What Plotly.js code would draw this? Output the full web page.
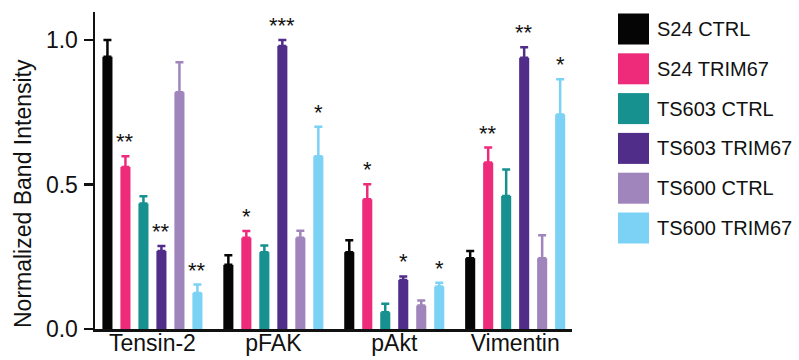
<!DOCTYPE html>
<html>
<head>
<meta charset="utf-8">
<script src="https://cdn.plot.ly/plotly-3.0.1.min.js"></script>
<style>html,body{margin:0;padding:0;background:#fff;}#chart{width:799px;height:360px;}</style>
</head>
<body>
<div id="chart"></div>
<script>
// ---- data ----
const categories = ["Tensin-2", "pFAK", "pAkt", "Vimentin"];
const seriesNames = ["S24 CTRL", "S24 TRIM67", "TS603 CTRL", "TS603 TRIM67", "TS600 CTRL", "TS600 TRIM67"];
const seriesColors = ["#050505", "#EE2B7B", "#17918F", "#512D8A", "#A085BD", "#7BD2F5"];
const yTickVals = [0, 0.5, 1.0];
const yTickText = ["0.0", "0.5", "1.0"];
const yTitle = "Normalized Band Intensity";

const s24Ctrl     = [0.942, 0.222, 0.266, 0.245];
const s24Trim     = [0.561, 0.316, 0.449, 0.576];
const ts603Ctrl   = [0.434, 0.266, 0.058, 0.460];
const ts603Trim   = [0.270, 0.979, 0.170, 0.939];
const ts600Ctrl   = [0.819, 0.316, 0.081, 0.245];
const ts600Trim   = [0.125, 0.598, 0.147, 0.742];

const s24CtrlErr   = [0.058, 0.033, 0.041, 0.025];
const s24TrimErr   = [0.037, 0.023, 0.052, 0.052];
const ts603CtrlErr = [0.025, 0.023, 0.029, 0.092];
const ts603TrimErr = [0.017, 0.021, 0.012, 0.036];
const ts600CtrlErr = [0.104, 0.024, 0.018, 0.079];
const ts600TrimErr = [0.029, 0.102, 0.013, 0.122];

const s24CtrlSig   = ["", "", "", ""];
const s24TrimSig   = ["**", "*", "*", "**"];
const ts603CtrlSig = ["", "", "", ""];
const ts603TrimSig = ["**", "***", "*", "**"];
const ts600CtrlSig = ["", "", "", ""];
const ts600TrimSig = ["**", "*", "*", "*"];

const values = [s24Ctrl, s24Trim, ts603Ctrl, ts603Trim, ts600Ctrl, ts600Trim];
const errors = [s24CtrlErr, s24TrimErr, ts603CtrlErr, ts603TrimErr, ts600CtrlErr, ts600TrimErr];
const sigs   = [s24CtrlSig, s24TrimSig, ts603CtrlSig, ts603TrimSig, ts600CtrlSig, ts600TrimSig];

// ---- layout constants (pixels) ----
const FONT = "Liberation Sans, Arial, Helvetica, sans-serif";
const L = 95, R = 572, T = 12, B = 329;
const bargap = 0.107, bargroupgap = 0.44;
const nS = seriesNames.length;
const slot = (1 - bargap) / nS;

const traces = values.map((v, i) => ({
  type: "bar",
  name: seriesNames[i],
  x: categories,
  y: v,
  marker: {color: seriesColors[i], line: {width: 0}},
  error_y: {type: "data", symmetric: false, array: errors[i], arrayminus: v.map(() => 0),
            color: seriesColors[i], thickness: 2.5, width: 4},
  showlegend: false,
  hoverinfo: "skip"
}));

const W = R - L, H = B - T;
const px = p => (p - L) / W;
const py = p => (B - p) / H;

const annotations = [];
sigs.forEach((arr, i) => {
  arr.forEach((s, j) => {
    if (!s) return;
    annotations.push({
      xref: "x", yref: "y",
      x: j + (i - (nS - 1) / 2) * slot,
      y: values[i][j] + errors[i][j],
      text: s, showarrow: false, yanchor: "bottom", xanchor: "center",
      yshift: 0,
      font: {family: FONT, size: 22, color: "#111"}
    });
  });
});

// y-axis title
annotations.push({xref: "paper", yref: "paper", x: px(23), y: py(194),
  xanchor: "center", yanchor: "middle", showarrow: false, textangle: -90,
  text: yTitle, font: {family: FONT, size: 23, color: "#111"}});

// custom legend
const shapes = [];
seriesNames.forEach((n, i) => {
  const c = 29 + 39.8 * i;
  shapes.push({type: "rect", xref: "paper", yref: "paper",
    x0: px(618), x1: px(649), y0: py(c + 15.5), y1: py(c - 15.5),
    fillcolor: seriesColors[i], line: {width: 0}});
  annotations.push({xref: "paper", yref: "paper", x: px(655), y: py(c),
    xanchor: "left", yanchor: "middle", showarrow: false, text: n,
    font: {family: FONT, size: 20, color: "#111"}});
});

const layout = {
  width: 799, height: 360,
  margin: {l: L, r: 799 - R, t: T, b: 360 - B, pad: 0},
  paper_bgcolor: "#fff", plot_bgcolor: "#fff",
  barmode: "group", bargap: bargap, bargroupgap: bargroupgap,
  font: {family: FONT, color: "#111"},
  xaxis: {
    type: "category", range: [-0.475, 3.47],
    showline: true, linewidth: 2.5, linecolor: "#111",
    ticks: "", showgrid: false, zeroline: false,
    ticklabelstandoff: -8,
    tickfont: {family: FONT, size: 23, color: "#111"},
    automargin: false
  },
  yaxis: {
    range: [0, 1.097],
    tickvals: yTickVals, ticktext: yTickText,
    showline: true, linewidth: 2.5, linecolor: "#111",
    ticks: "outside", ticklen: 9, tickwidth: 2.5, tickcolor: "#111",
    showgrid: false, zeroline: false,
    ticklabelstandoff: 1,
    tickfont: {family: FONT, size: 23, color: "#111"},
    automargin: false
  },
  shapes: shapes,
  annotations: annotations,
  showlegend: false
};

Plotly.newPlot("chart", traces, layout, {displayModeBar: false, staticPlot: true});
</script>
</body>
</html>
